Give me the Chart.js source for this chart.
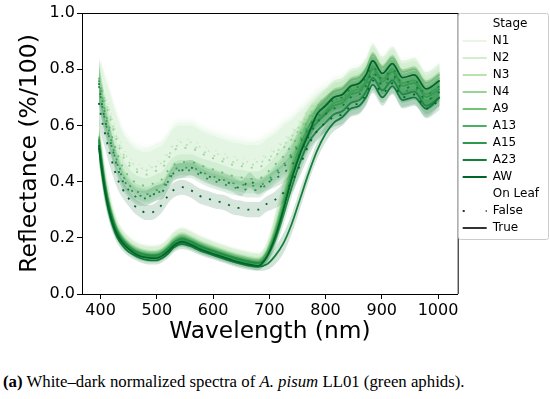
<!DOCTYPE html>
<html><head><meta charset="utf-8">
<script src="https://cdn.jsdelivr.net/npm/chart.js@4.4.0/dist/chart.umd.min.js"></script>
<style>
html,body{margin:0;padding:0;background:#fff;width:550px;height:399px;overflow:hidden}
#wrap{position:absolute;left:0;top:0;width:550px;height:350px}
#cap{position:absolute;left:3px;top:372px;font-family:"Liberation Serif",serif;font-size:16.8px;color:#000;white-space:nowrap;line-height:20px}
</style></head><body>
<div id="wrap"><canvas id="c" width="550" height="350" style="width:550px;height:350px"></canvas></div>
<div id="cap"><b>(a)</b> White–dark normalized spectra of <i>A. pisum</i> LL01 (green aphids).</div>
<script>
// ---- data ----
const wavelengths = [397,402,408,415,422,430,440,450,460,470,480,490,500,510,520,530,545,560,575,590,605,620,635,650,665,680,695,710,725,740,755,770,785,800,815,830,845,860,872,884,901,919,937,958,979,1003];
const stages = ['N1','N2','N3','N4','A9','A13','A15','A23','AW'];
const stageColors = ['rgb(233,246,228)','rgb(211,238,205)','rgb(184,227,177)','rgb(152,213,148)','rgb(116,196,118)','rgb(75,176,98)','rgb(47,152,79)','rgb(21,127,59)','rgb(0,101,41)'];
const onLeafLabels = ['False','True'];
const xTicks = [400,500,600,700,800,900,1000];
const yTicks = [0,0.2,0.4,0.6,0.8,1.0];

// On leaf = True (mean reflectance)
const trueN1  = [0.57,0.49,0.40,0.33,0.28,0.236,0.204,0.184,0.17,0.16,0.155,0.152,0.153,0.161,0.178,0.2,0.213,0.203,0.188,0.176,0.165,0.155,0.145,0.137,0.13,0.125,0.16,0.25,0.37,0.48,0.57,0.64,0.67,0.70,0.73,0.74,0.77,0.78,0.81,0.86,0.815,0.85,0.80,0.81,0.76,0.79];
const trueN2  = [0.55,0.47,0.385,0.315,0.262,0.222,0.192,0.172,0.158,0.148,0.143,0.141,0.142,0.15,0.166,0.187,0.2,0.19,0.176,0.164,0.154,0.144,0.134,0.126,0.119,0.115,0.14,0.22,0.33,0.45,0.54,0.61,0.66,0.69,0.72,0.73,0.76,0.77,0.80,0.85,0.805,0.84,0.79,0.80,0.75,0.78];
const trueN3  = [0.56,0.48,0.40,0.33,0.275,0.232,0.2,0.18,0.165,0.155,0.15,0.148,0.149,0.157,0.174,0.195,0.209,0.199,0.184,0.172,0.161,0.151,0.141,0.133,0.126,0.121,0.15,0.23,0.35,0.46,0.55,0.62,0.65,0.68,0.71,0.72,0.75,0.76,0.79,0.84,0.795,0.83,0.78,0.79,0.74,0.77];
const trueN4  = [0.55,0.47,0.39,0.32,0.265,0.226,0.196,0.176,0.161,0.151,0.146,0.144,0.145,0.153,0.17,0.191,0.205,0.195,0.18,0.168,0.157,0.147,0.137,0.129,0.122,0.118,0.15,0.23,0.34,0.46,0.55,0.62,0.66,0.69,0.72,0.73,0.76,0.77,0.80,0.85,0.805,0.84,0.79,0.80,0.75,0.78];
const trueA9  = [0.56,0.48,0.39,0.32,0.27,0.226,0.195,0.174,0.16,0.15,0.144,0.141,0.142,0.151,0.168,0.189,0.203,0.193,0.179,0.166,0.156,0.146,0.136,0.128,0.121,0.117,0.145,0.22,0.33,0.44,0.53,0.60,0.62,0.65,0.68,0.69,0.72,0.73,0.76,0.81,0.765,0.80,0.75,0.76,0.71,0.74];
const trueA13 = [0.54,0.46,0.38,0.31,0.258,0.217,0.186,0.165,0.15,0.141,0.136,0.133,0.134,0.142,0.158,0.178,0.192,0.182,0.168,0.157,0.147,0.137,0.127,0.119,0.112,0.108,0.135,0.21,0.31,0.42,0.51,0.58,0.61,0.64,0.67,0.68,0.71,0.72,0.75,0.80,0.755,0.79,0.74,0.75,0.70,0.73];
const trueA15 = [0.55,0.47,0.385,0.315,0.265,0.222,0.19,0.17,0.155,0.146,0.14,0.137,0.138,0.147,0.163,0.183,0.197,0.187,0.173,0.161,0.151,0.141,0.131,0.123,0.116,0.112,0.13,0.19,0.28,0.38,0.47,0.54,0.58,0.61,0.64,0.65,0.68,0.69,0.72,0.77,0.725,0.76,0.71,0.72,0.67,0.70];
const trueA23 = [0.52,0.44,0.36,0.29,0.24,0.20,0.17,0.15,0.138,0.128,0.122,0.12,0.12,0.128,0.144,0.165,0.178,0.17,0.156,0.145,0.135,0.125,0.115,0.107,0.10,0.097,0.105,0.135,0.18,0.25,0.34,0.43,0.51,0.57,0.61,0.63,0.66,0.67,0.70,0.745,0.70,0.74,0.69,0.70,0.66,0.70];
const trueAW  = [0.53,0.45,0.37,0.30,0.25,0.21,0.18,0.16,0.145,0.135,0.13,0.128,0.128,0.136,0.152,0.172,0.186,0.176,0.162,0.15,0.14,0.13,0.12,0.112,0.105,0.10,0.13,0.20,0.30,0.41,0.50,0.57,0.64,0.67,0.70,0.71,0.74,0.75,0.78,0.83,0.785,0.82,0.77,0.78,0.73,0.76];

// On leaf = False (mean reflectance)
const falseN1  = [0.78,0.75,0.71,0.67,0.62,0.57,0.52,0.49,0.47,0.46,0.455,0.46,0.47,0.48,0.51,0.54,0.55,0.55,0.535,0.52,0.51,0.50,0.49,0.485,0.48,0.48,0.50,0.52,0.55,0.58,0.62,0.66,0.69,0.71,0.73,0.74,0.76,0.77,0.79,0.83,0.79,0.82,0.77,0.78,0.74,0.77];
const falseN2  = [0.76,0.74,0.70,0.66,0.61,0.56,0.51,0.48,0.46,0.45,0.445,0.45,0.46,0.47,0.50,0.53,0.54,0.54,0.525,0.51,0.50,0.49,0.48,0.475,0.47,0.47,0.49,0.51,0.54,0.57,0.61,0.65,0.68,0.70,0.72,0.73,0.75,0.76,0.78,0.82,0.78,0.81,0.76,0.77,0.73,0.76];
const falseN3  = [0.77,0.74,0.69,0.65,0.60,0.55,0.50,0.47,0.45,0.44,0.44,0.445,0.455,0.465,0.49,0.52,0.53,0.53,0.515,0.50,0.49,0.48,0.47,0.465,0.46,0.465,0.48,0.50,0.53,0.56,0.60,0.64,0.67,0.69,0.71,0.72,0.74,0.75,0.77,0.81,0.77,0.80,0.75,0.76,0.72,0.75];
const falseN4  = [0.76,0.73,0.68,0.64,0.59,0.54,0.49,0.46,0.44,0.43,0.425,0.43,0.44,0.45,0.48,0.51,0.52,0.52,0.505,0.49,0.48,0.47,0.46,0.455,0.45,0.45,0.47,0.49,0.52,0.55,0.59,0.63,0.66,0.68,0.70,0.71,0.73,0.74,0.76,0.80,0.76,0.79,0.74,0.75,0.71,0.74];
const falseA9  = [0.77,0.71,0.65,0.60,0.55,0.50,0.45,0.42,0.40,0.39,0.385,0.39,0.40,0.41,0.44,0.46,0.47,0.47,0.46,0.45,0.44,0.43,0.42,0.415,0.41,0.41,0.43,0.46,0.49,0.53,0.57,0.62,0.65,0.67,0.69,0.70,0.72,0.73,0.75,0.79,0.75,0.78,0.73,0.74,0.70,0.73];
const falseA13 = [0.76,0.70,0.64,0.58,0.52,0.47,0.42,0.39,0.37,0.36,0.355,0.36,0.37,0.38,0.41,0.44,0.45,0.45,0.44,0.425,0.415,0.405,0.395,0.39,0.385,0.385,0.40,0.43,0.46,0.50,0.55,0.60,0.63,0.65,0.67,0.68,0.71,0.72,0.74,0.78,0.74,0.77,0.72,0.73,0.69,0.72];
const falseA15 = [0.74,0.68,0.62,0.56,0.51,0.46,0.41,0.38,0.36,0.35,0.345,0.35,0.36,0.37,0.40,0.43,0.44,0.44,0.425,0.41,0.40,0.39,0.38,0.375,0.37,0.37,0.39,0.42,0.45,0.49,0.54,0.59,0.64,0.67,0.69,0.70,0.73,0.74,0.77,0.81,0.765,0.80,0.75,0.76,0.71,0.74];
const falseA23 = [0.75,0.68,0.62,0.56,0.51,0.45,0.40,0.37,0.35,0.34,0.34,0.35,0.36,0.365,0.40,0.43,0.44,0.45,0.435,0.42,0.41,0.40,0.39,0.375,0.405,0.38,0.395,0.41,0.43,0.46,0.50,0.56,0.61,0.64,0.66,0.67,0.70,0.71,0.74,0.79,0.745,0.78,0.73,0.74,0.69,0.72];
const falseAW  = [0.68,0.62,0.57,0.51,0.46,0.41,0.37,0.34,0.315,0.30,0.29,0.29,0.30,0.32,0.35,0.37,0.38,0.37,0.35,0.34,0.33,0.325,0.31,0.305,0.30,0.30,0.32,0.335,0.36,0.40,0.46,0.53,0.58,0.61,0.63,0.64,0.67,0.68,0.71,0.76,0.715,0.75,0.70,0.71,0.66,0.69];

// confidence band half-widths
const bandTrueDark  = [0.05,0.045,0.04,0.03,0.025,0.02,0.018,0.016,0.015,0.015,0.015,0.015,0.015,0.015,0.016,0.017,0.018,0.017,0.016,0.016,0.015,0.015,0.015,0.015,0.015,0.015,0.02,0.03,0.035,0.035,0.035,0.03,0.03,0.03,0.03,0.03,0.03,0.03,0.03,0.03,0.03,0.03,0.03,0.03,0.03,0.03];
const bandTrueLight = [0.08,0.07,0.06,0.05,0.04,0.032,0.028,0.026,0.025,0.025,0.025,0.025,0.025,0.025,0.026,0.027,0.028,0.027,0.026,0.026,0.025,0.025,0.025,0.025,0.025,0.025,0.03,0.05,0.06,0.06,0.05,0.045,0.04,0.04,0.04,0.04,0.04,0.04,0.04,0.04,0.04,0.04,0.04,0.04,0.04,0.04];
const bandFalseDark = [0.07,0.06,0.05,0.045,0.04,0.035,0.03,0.028,0.027,0.027,0.027,0.027,0.027,0.027,0.027,0.027,0.027,0.027,0.027,0.027,0.027,0.027,0.027,0.027,0.027,0.027,0.027,0.03,0.035,0.04,0.04,0.04,0.035,0.035,0.035,0.035,0.035,0.035,0.035,0.035,0.035,0.035,0.035,0.035,0.035,0.035];
const bandFalseLight= [0.07,0.08,0.085,0.085,0.085,0.085,0.08,0.08,0.08,0.08,0.08,0.08,0.08,0.08,0.08,0.08,0.08,0.08,0.08,0.08,0.08,0.08,0.08,0.08,0.08,0.08,0.08,0.08,0.08,0.07,0.06,0.05,0.05,0.05,0.05,0.05,0.05,0.05,0.05,0.05,0.05,0.05,0.05,0.05,0.05,0.05];

const trueSeries  = [trueN1,trueN2,trueN3,trueN4,trueA9,trueA13,trueA15,trueA23,trueAW];
const falseSeries = [falseN1,falseN2,falseN3,falseN4,falseA9,falseA13,falseA15,falseA23,falseAW];
const trueBands   = [bandTrueLight,bandTrueLight,bandTrueLight,bandTrueLight,bandTrueDark,bandTrueDark,bandTrueDark,bandTrueDark,bandTrueDark];
const falseBands  = [bandFalseLight,bandFalseLight,bandFalseLight,bandFalseLight,bandFalseDark,bandFalseDark,bandFalseDark,bandFalseDark,bandFalseDark];

// ---- build datasets ----
function alpha(c, a){ return c.replace('rgb(','rgba(').replace(')',','+a+')'); }
function pts(arr, band, sign){ return arr.map((v,i)=>({x:wavelengths[i], y:v + sign*band[i]})); }
const datasets = [];
let order = 1000;
stages.forEach((s, si) => {
  [['False', falseSeries[si], falseBands[si]], ['True', trueSeries[si], trueBands[si]]].forEach(([style, arr, band]) => {
    const col = stageColors[si];
    const a = style === 'False' ? (si < 4 ? 0.12 : 0.16) : 0.2;
    datasets.push({label: s+' '+style+' lo', data: pts(arr, band, -1), borderWidth: 0, pointRadius: 0, fill: false, order: order--});
    datasets.push({label: s+' '+style+' hi', data: pts(arr, band, 1), borderWidth: 0, pointRadius: 0, fill: '-1', backgroundColor: alpha(col, a), order: order--});
    datasets.push({label: s+' '+style, data: pts(arr, band, 0), borderColor: col, borderWidth: 1.8, pointRadius: 0, fill: false,
      borderDash: style === 'False' ? [2, 8] : [], order: order--});
  });
});

const boxPlugin = {
  id: 'frame',
  afterDatasetsDraw(chart) {
    const {ctx, chartArea: a} = chart;
    ctx.save();
    ctx.strokeStyle = '#000'; ctx.lineWidth = 1;
    ctx.beginPath();
    ctx.moveTo(a.left, a.top + 0.5); ctx.lineTo(a.right + 0.5, a.top + 0.5); ctx.lineTo(a.right + 0.5, a.bottom);
    ctx.stroke();
    ctx.restore();
  },
  afterDraw(chart) {
    const lg = chart.legend; const ctx = chart.ctx;
    const boxes = lg.legendHitBoxes; const last = boxes[boxes.length - 1];
    ctx.save();
    ctx.strokeStyle = '#cccccc'; ctx.lineWidth = 1;
    ctx.beginPath();
    ctx.roundRect(Math.round(lg.left) + 0.5, Math.round(lg.top) + 0.5, 548 - Math.round(lg.left), Math.round(last.top + last.height + 5 - lg.top), 2);
    ctx.stroke();
    ctx.restore();
  }
};

const legendItems = [
  {text: 'Stage', strokeStyle: 'rgba(0,0,0,0)', lineWidth: 0, pointStyle: 'line'}
].concat(stages.map((s, i) => ({text: s, strokeStyle: stageColors[i], lineWidth: 2, pointStyle: 'line'})))
 .concat([
  {text: 'On Leaf', strokeStyle: 'rgba(0,0,0,0)', lineWidth: 0, pointStyle: 'line'},
  {text: onLeafLabels[0], strokeStyle: '#333', lineWidth: 2, lineDash: [2, 21], pointStyle: 'line'},
  {text: onLeafLabels[1], strokeStyle: '#333', lineWidth: 2, pointStyle: 'line'}
 ]);

new Chart(document.getElementById('c'), {
  type: 'line',
  data: {datasets},
  plugins: [boxPlugin],
  options: {
    responsive: false, animation: false, devicePixelRatio: 1,
    layout: {padding: {top: 13, right: 1, bottom: 0, left: 0}},
    elements: {line: {cubicInterpolationMode: 'monotone'}},
    plugins: {
      filler: {drawTime: 'beforeDatasetDraw'},
      tooltip: {enabled: false},
      legend: {
        position: 'right', align: 'start',
        onClick: null,
        labels: {
          usePointStyle: true, pointStyleWidth: 24, padding: 5,
          font: {family: 'DejaVu Sans', size: 12}, color: '#000',
          generateLabels: () => legendItems
        }
      }
    },
    scales: {
      x: {
        type: 'linear', min: 367, max: 1035,
        afterBuildTicks: (s) => { s.ticks = xTicks.map(v => ({value: v})); },
        afterFit: (s) => { s.height = 56; },
        ticks: {font: {family: 'DejaVu Sans', size: 16}, color: '#000', padding: 2, maxRotation: 0, callback: (v) => String(v)},
        grid: {drawOnChartArea: false, drawTicks: true, tickLength: 5, color: '#000'},
        border: {display: true, color: '#000', width: 1},
        title: {display: true, text: 'Wavelength (nm)', font: {family: 'DejaVu Sans', size: 23.3}, color: '#000', padding: {top: 0, bottom: 4}}
      },
      y: {
        type: 'linear', min: 0, max: 1,
        afterBuildTicks: (s) => { s.ticks = yTicks.map(v => ({value: v})); },
        afterFit: (s) => { s.width = 82; },
        ticks: {font: {family: 'DejaVu Sans', size: 16}, color: '#000', padding: 2, callback: (v) => Number(v).toFixed(1)},
        grid: {drawOnChartArea: false, drawTicks: true, tickLength: 5, color: '#000'},
        border: {display: true, color: '#000', width: 1},
        title: {display: true, text: 'Reflectance (%/100)', font: {family: 'DejaVu Sans', size: 23.5}, color: '#000', padding: {top: 16, bottom: 0}}
      }
    }
  }
});
</script>
</body></html>
